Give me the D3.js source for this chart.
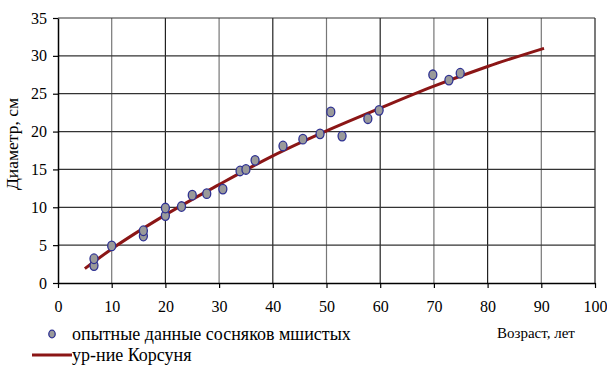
<!DOCTYPE html>
<html>
<head>
<meta charset="utf-8">
<script src="https://cdn.jsdelivr.net/npm/d3@7"></script>
</head>
<body style="margin:0; background:#fff">
<div id="chart"></div>
<script>
// опытные данные сосняков мшистых
const ages = [6.7, 6.7, 10, 15.9, 15.9, 20, 20, 23, 25, 27.7, 30.7, 33.9, 35, 36.7, 41.9, 45.6, 48.8, 50.8, 52.9, 57.7, 59.8, 69.8, 72.8, 74.9];
const diams = [2.3, 3.2, 4.9, 6.2, 6.9, 8.9, 9.9, 10.1, 11.6, 11.8, 12.4, 14.8, 15.0, 16.2, 18.1, 19.0, 19.7, 22.6, 19.4, 21.7, 22.8, 27.5, 26.8, 27.7];

// ур-ние Корсуня
const curveAges = [5, 10, 20, 30, 40, 50, 60, 70, 80, 90.5];
const curveDiams = [1.9, 4.5, 9.0, 13.0, 16.8, 20.1, 23.1, 26.0, 28.6, 31.0];

const xTicks = [0, 10, 20, 30, 40, 50, 60, 70, 80, 90, 100];
const yTicks = [0, 5, 10, 15, 20, 25, 30, 35];

const FONT = "'Liberation Serif'";
const width = 607, height = 367;
const margin = { left: 58, right: 12, top: 18, bottom: 84 };

const svg = d3.select("#chart")
    .append("svg")
    .attr("width", width)
    .attr("height", height);

const x = d3.scaleLinear()
    .domain([0, 100])
    .range([margin.left, width - margin.right]);

const y = d3.scaleLinear()
    .domain([0, 35])
    .range([height - margin.bottom, margin.top]);

// grid
svg.append("g")
    .selectAll("line.vgrid")
    .data(xTicks.slice(1))
    .enter().append("line")
    .attr("x1", d => x(d)).attr("x2", d => x(d))
    .attr("y1", y(0)).attr("y2", y(35))
    .attr("stroke", (d, i) => i % 2 ? "#222" : "#777")
    .attr("stroke-width", 1.2);

svg.append("g")
    .selectAll("line.hgrid")
    .data(yTicks.slice(1))
    .enter().append("line")
    .attr("x1", x(0)).attr("x2", x(100))
    .attr("y1", d => y(d)).attr("y2", d => y(d))
    .attr("stroke", "#333")
    .attr("stroke-width", 1.2);

// axes
const xAxis = svg.append("g")
    .attr("transform", `translate(0,${y(0)})`)
    .call(d3.axisBottom(x).tickValues(xTicks).tickSize(5).tickPadding(13).tickSizeOuter(0));

const yAxis = svg.append("g")
    .attr("transform", `translate(${x(0)},0)`)
    .call(d3.axisLeft(y).tickValues(yTicks).tickSize(5).tickPadding(6).tickSizeOuter(0));

[xAxis, yAxis].forEach(g => {
    g.attr("font-family", null).attr("font-size", null);
    g.select(".domain").attr("stroke", "#000").attr("stroke-width", 1.5);
    g.selectAll(".tick line").attr("stroke", "#000").attr("stroke-width", 1.2);
    g.selectAll(".tick text")
        .style("font-family", FONT)
        .style("font-size", "16px")
        .attr("fill", "#000");
});

// curve
const line = d3.line()
    .x((d, i) => x(curveAges[i]))
    .y(d => y(d))
    .curve(d3.curveMonotoneX);

svg.append("path")
    .datum(curveDiams)
    .attr("d", line)
    .attr("fill", "none")
    .attr("stroke", "#8b1616")
    .attr("stroke-width", 3);

// points
svg.selectAll("ellipse.pt")
    .data(diams)
    .enter().append("ellipse")
    .attr("class", "pt")
    .attr("cx", (d, i) => x(ages[i]))
    .attr("cy", d => y(d))
    .attr("rx", 4)
    .attr("ry", 4.8)
    .attr("fill", "#9a9a9a")
    .attr("stroke", "#2e3192")
    .attr("stroke-width", 1.3);

// axis titles
svg.append("text")
    .attr("transform", "translate(18,144) rotate(-90)")
    .attr("text-anchor", "middle")
    .style("font-family", FONT)
    .style("font-size", "17.5px")
    .text("Диаметр, см");

svg.append("text")
    .attr("x", 497)
    .attr("y", 338)
    .style("font-family", FONT)
    .style("font-size", "15px")
    .text("Возраст, лет");

// legend
svg.append("ellipse")
    .attr("cx", 52).attr("cy", 334)
    .attr("rx", 3.2).attr("ry", 3.8)
    .attr("fill", "#9a9a9a")
    .attr("stroke", "#2e3192")
    .attr("stroke-width", 1.3);

svg.append("text")
    .attr("x", 72).attr("y", 340)
    .style("font-family", FONT)
    .style("font-size", "18px")
    .text("опытные данные сосняков мшистых");

svg.append("line")
    .attr("x1", 32).attr("x2", 72)
    .attr("y1", 355).attr("y2", 355)
    .attr("stroke", "#8b1616")
    .attr("stroke-width", 3);

svg.append("text")
    .attr("x", 72).attr("y", 361)
    .style("font-family", FONT)
    .style("font-size", "18px")
    .text("ур-ние Корсуня");
</script>
</body>
</html>
